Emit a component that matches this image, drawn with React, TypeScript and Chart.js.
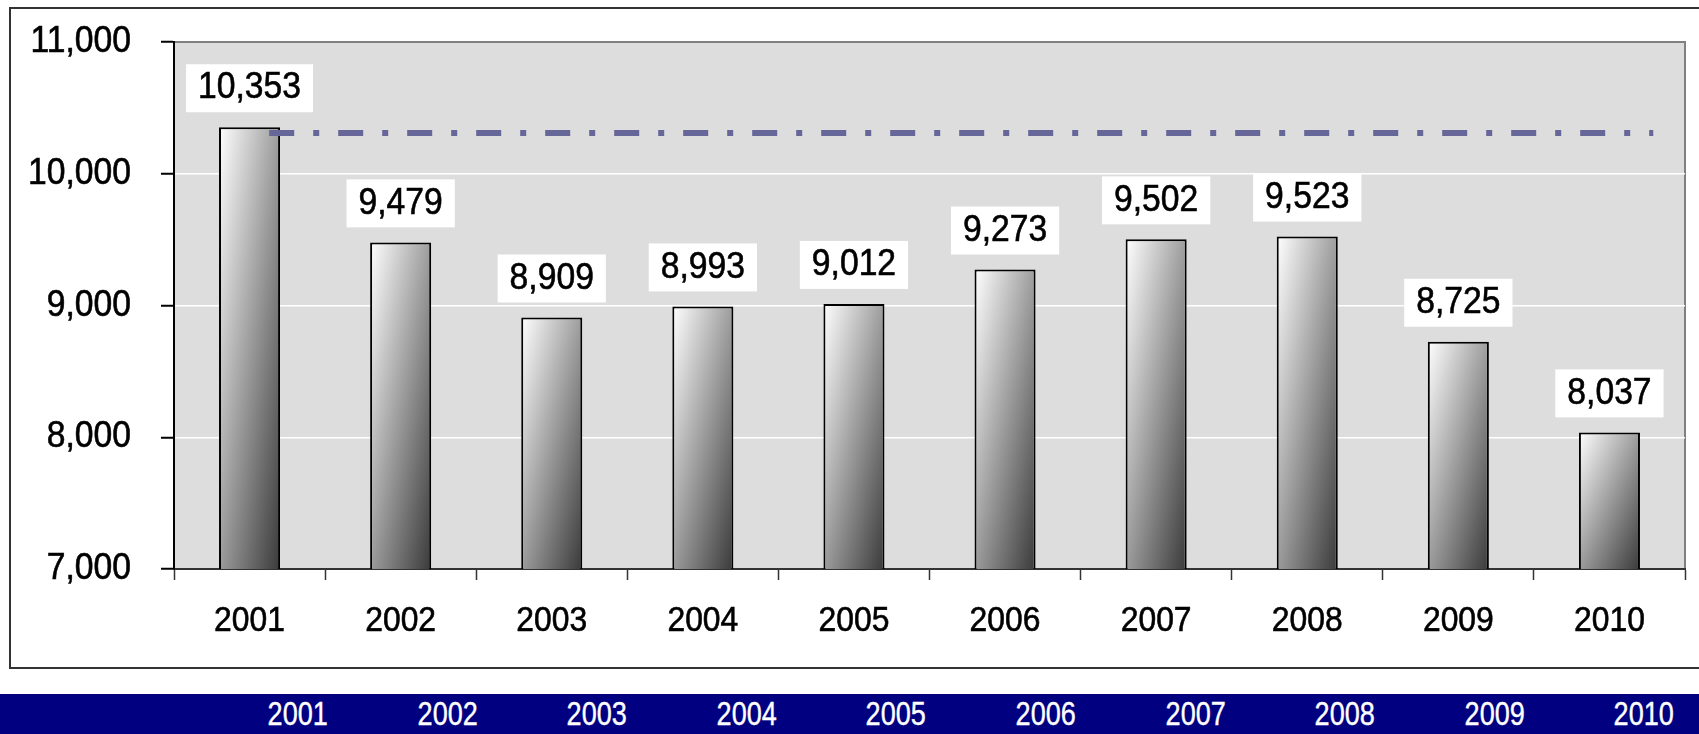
import React, { useEffect, useRef } from 'react';
import { Chart, registerables } from 'chart.js';

Chart.register(...registerables);

// ---- data ----
const categories = ['2001', '2002', '2003', '2004', '2005', '2006', '2007', '2008', '2009', '2010'];
const values = [10353, 9479, 8909, 8993, 9012, 9273, 9502, 9523, 8725, 8037];
const yMin = 7000;
const yMax = 11000;
const yStep = 1000;
const refLineValue = 10310;
const refLineX = [0.13, 9.29]; // extent of the reference line, in category-index units
const bannerLabels = categories;

const FONT = "'Liberation Sans', Arial, sans-serif";
const SQUEEZE = 0.91; // horizontal condensing of the narrow chart font
const BAR_PCT = 0.404;

const fmt = (v: number) => v.toLocaleString('en-US');

function narrowText(ctx: CanvasRenderingContext2D, text: string, x: number, y: number, align: CanvasTextAlign) {
  ctx.save();
  ctx.translate(x, y);
  ctx.scale(SQUEEZE, 1);
  ctx.textAlign = align;
  ctx.textBaseline = 'middle';
  ctx.lineWidth = 0.6;
  ctx.strokeStyle = ctx.fillStyle as string;
  ctx.fillText(text, 0, 0);
  ctx.strokeText(text, 0, 0);
  ctx.restore();
}

export default function App() {
  const canvasRef = useRef<HTMLCanvasElement>(null);

  useEffect(() => {
    document.body.style.margin = '0';
    const canvas = canvasRef.current;
    if (!canvas) return;

    const plotBg = {
      id: 'plotBg',
      beforeDraw(chart: any) {
        const { ctx, chartArea: a } = chart;
        ctx.save();
        ctx.fillStyle = '#DDDDDD';
        ctx.fillRect(a.left, a.top, a.right - a.left, a.bottom - a.top);
        ctx.strokeStyle = '#808080';
        ctx.lineWidth = 2;
        ctx.beginPath();
        ctx.moveTo(a.left, a.top);
        ctx.lineTo(a.right, a.top);
        ctx.lineTo(a.right, a.bottom);
        ctx.stroke();
        ctx.restore();
      },
    };

    const axisText = {
      id: 'axisText',
      afterDraw(chart: any) {
        const { ctx } = chart;
        const xs = chart.scales.x;
        const ys = chart.scales.y;
        ctx.save();
        ctx.fillStyle = '#000000';
        ctx.font = `37px ${FONT}`;
        ys.ticks.forEach((t: any) => {
          narrowText(ctx, fmt(t.value), 131, ys.getPixelForValue(t.value), 'right');
        });
        ctx.font = `35px ${FONT}`;
        categories.forEach((c, i) => {
          narrowText(ctx, c, xs.getPixelForValue(i), xs.top + 52, 'center');
        });
        ctx.restore();
      },
    };

    const valueLabels = {
      id: 'valueLabels',
      afterDatasetsDraw(chart: any) {
        const { ctx } = chart;
        const meta = chart.getDatasetMeta(1);
        ctx.save();
        ctx.font = `37px ${FONT}`;
        meta.data.forEach((bar: any, i: number) => {
          const text = fmt(values[i]);
          const w = ctx.measureText(text).width * SQUEEZE + 24;
          const h = 48;
          const bottom = bar.y - 15;
          ctx.fillStyle = '#ffffff';
          ctx.fillRect(bar.x - w / 2, bottom - h, w, h);
          ctx.fillStyle = '#000000';
          narrowText(ctx, text, bar.x, bottom - h / 2, 'center');
        });
        ctx.restore();
      },
    };

    const barGradient = (c: any) => {
      const chart = c.chart;
      const xs = chart.scales?.x;
      const ys = chart.scales?.y;
      if (!xs || !ys || c.type !== 'data' || !xs.width) return '#cccccc';
      const cx = xs.getPixelForValue(c.dataIndex);
      const w = (xs.width / categories.length) * BAR_PCT;
      const top = ys.getPixelForValue(values[c.dataIndex]);
      const bottom = ys.getPixelForValue(yMin);
      const h = bottom - top;
      if (!isFinite(cx) || !isFinite(top) || h <= 0) return '#cccccc';
      const left = cx - w / 2;
      const k = (2 * w * h) / (h * h + w * w);
      const g = chart.ctx.createLinearGradient(left, top, left + h * k, top + w * k);
      g.addColorStop(0, '#ffffff');
      g.addColorStop(1, '#3a3a3a');
      return g;
    };

    const chart = new Chart(canvas, {
      type: 'bar',
      data: {
        labels: categories,
        datasets: [
          {
            type: 'line',
            data: refLineX.map((x) => ({ x, y: refLineValue })),
            xAxisID: 'xRef',
            yAxisID: 'y',
            borderColor: '#666699',
            borderWidth: 6,
            borderDash: [25, 19, 6, 19],
            borderCapStyle: 'butt',
            pointRadius: 0,
            fill: false,
            order: 0,
          } as any,
          {
            type: 'bar',
            data: values,
            xAxisID: 'x',
            yAxisID: 'y',
            backgroundColor: barGradient,
            borderColor: '#000000',
            borderWidth: 2,
            borderSkipped: false,
            barPercentage: BAR_PCT,
            categoryPercentage: 1,
            grouped: false,
            order: 1,
          } as any,
        ],
      },
      options: {
        responsive: false,
        animation: false,
        devicePixelRatio: 1,
        layout: { padding: { left: 0, top: 42, right: 14, bottom: 0 } },
        plugins: { legend: { display: false }, tooltip: { enabled: false } },
        scales: {
          x: {
            type: 'category',
            offset: true,
            grid: {
              display: true,
              offset: true,
              drawOnChartArea: false,
              drawTicks: true,
              tickLength: 11,
              tickColor: '#333333',
              tickWidth: 1.5,
            },
            border: { display: true, color: '#333333', width: 2 },
            ticks: { display: false, autoSkip: false },
            afterFit: (s: any) => {
              s.height = 125;
            },
          },
          xRef: {
            type: 'linear',
            display: false,
            offset: false,
            grid: { offset: false },
            min: -0.5,
            max: 9.5,
          },
          y: {
            min: yMin,
            max: yMax,
            ticks: { display: false, stepSize: yStep },
            grid: {
              color: (c: any) =>
                c.tick && (c.tick.value === yMin || c.tick.value === yMax) ? 'rgba(0,0,0,0)' : '#ffffff',
              lineWidth: 1.5,
              tickColor: '#000000',
              tickLength: 13,
              tickWidth: 2,
            },
            border: { display: true, color: '#000000', width: 2 },
            afterFit: (s: any) => {
              s.width = 174;
            },
          },
        } as any,
      },
      plugins: [plotBg, valueLabels, axisText],
    });

    return () => chart.destroy();
  }, []);

  return (
    <div style={{ position: 'relative', width: 1699, height: 734, overflow: 'hidden', background: '#ffffff' }}>
      <div
        style={{
          position: 'absolute',
          left: 9,
          top: 7,
          width: 1720,
          height: 662,
          border: '2px solid #333333',
          boxSizing: 'border-box',
        }}
      />
      <canvas
        ref={canvasRef}
        width={1699}
        height={694}
        style={{ position: 'absolute', left: 0, top: 0, width: 1699, height: 694, display: 'block' }}
      />
      <div
        style={{
          position: 'absolute',
          left: 0,
          top: 694,
          width: 1699,
          height: 40,
          background: '#000080',
          display: 'flex',
          paddingLeft: 223,
          boxSizing: 'border-box',
        }}
      >
        {bannerLabels.map((l) => (
          <div
            key={l}
            style={{
              width: 149.6,
              flex: '0 0 149.6px',
              textAlign: 'center',
              color: '#ffffff',
              fontFamily: FONT,
              fontSize: 33,
              lineHeight: '40px',
              height: 40,
              overflow: 'visible',
            }}
          >
            <span style={{ display: 'inline-block', transform: 'scaleX(0.82)', WebkitTextStroke: '0.4px #ffffff' }}>
              {l}
            </span>
          </div>
        ))}
      </div>
    </div>
  );
}
